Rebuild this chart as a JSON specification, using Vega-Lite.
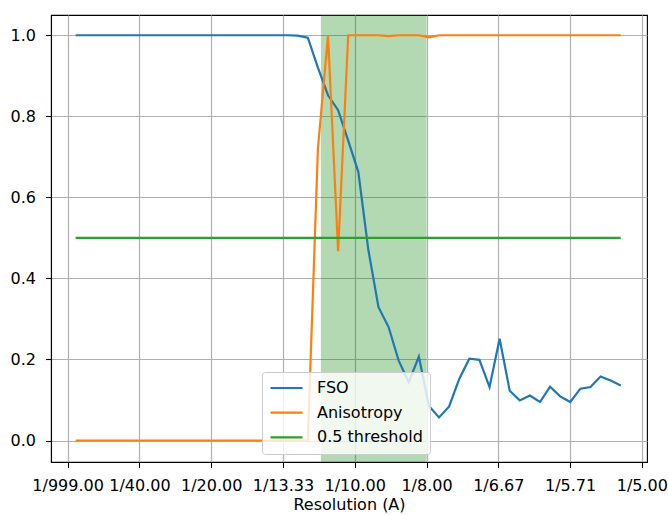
{
  "$schema": "https://vega.github.io/schema/vega-lite/v6.json",
  "width": 596,
  "height": 447,
  "autosize": {"type": "none"},
  "padding": {"left": 51, "top": 15, "right": 21, "bottom": 53},
  "background": "white",
  "config": {
    "font": "DejaVu Sans",
    "view": {"stroke": "#000000", "strokeWidth": 1.1},
    "axis": {
      "domainColor": "#000000",
      "domainWidth": 1.1,
      "tickColor": "#000000",
      "tickWidth": 1.1,
      "tickSize": 5.5,
      "labelColor": "#000000",
      "labelFont": "DejaVu Sans",
      "labelFontSize": 16,
      "labelPadding": 7,
      "gridColor": "#b0b0b0",
      "gridWidth": 1.2,
      "gridOpacity": 1,
      "titleFont": "DejaVu Sans",
      "titleFontSize": 16,
      "titleFontWeight": "normal",
      "titleColor": "#000000"
    }
  },
  "datasets": {
    "curves": [
      {"f": 0.00279, "FSO": 1.0, "Anisotropy": 0.0, "thr": 0.5},
      {"f": 0.00631, "FSO": 1.0, "Anisotropy": 0.0, "thr": 0.5},
      {"f": 0.00982, "FSO": 1.0, "Anisotropy": 0.0, "thr": 0.5},
      {"f": 0.01334, "FSO": 1.0, "Anisotropy": 0.0, "thr": 0.5},
      {"f": 0.01685, "FSO": 1.0, "Anisotropy": 0.0, "thr": 0.5},
      {"f": 0.02037, "FSO": 1.0, "Anisotropy": 0.0, "thr": 0.5},
      {"f": 0.02389, "FSO": 1.0, "Anisotropy": 0.0, "thr": 0.5},
      {"f": 0.0274, "FSO": 1.0, "Anisotropy": 0.0, "thr": 0.5},
      {"f": 0.03092, "FSO": 1.0, "Anisotropy": 0.0, "thr": 0.5},
      {"f": 0.03443, "FSO": 1.0, "Anisotropy": 0.0, "thr": 0.5},
      {"f": 0.03795, "FSO": 1.0, "Anisotropy": 0.0, "thr": 0.5},
      {"f": 0.04147, "FSO": 1.0, "Anisotropy": 0.0, "thr": 0.5},
      {"f": 0.04498, "FSO": 1.0, "Anisotropy": 0.0, "thr": 0.5},
      {"f": 0.0485, "FSO": 1.0, "Anisotropy": 0.0, "thr": 0.5},
      {"f": 0.05201, "FSO": 1.0, "Anisotropy": 0.0, "thr": 0.5},
      {"f": 0.05553, "FSO": 1.0, "Anisotropy": 0.0, "thr": 0.5},
      {"f": 0.05905, "FSO": 1.0, "Anisotropy": 0.0, "thr": 0.5},
      {"f": 0.06256, "FSO": 1.0, "Anisotropy": 0.0, "thr": 0.5},
      {"f": 0.06608, "FSO": 1.0, "Anisotropy": 0.0, "thr": 0.5},
      {"f": 0.06959, "FSO": 1.0, "Anisotropy": 0.0, "thr": 0.5},
      {"f": 0.07311, "FSO": 1.0, "Anisotropy": 0.0, "thr": 0.5},
      {"f": 0.07663, "FSO": 1.0, "Anisotropy": 0.0, "thr": 0.5},
      {"f": 0.08014, "FSO": 0.999, "Anisotropy": 0.0, "thr": 0.5},
      {"f": 0.08366, "FSO": 0.994, "Anisotropy": 0.0, "thr": 0.5},
      {"f": 0.08717, "FSO": 0.92, "Anisotropy": 0.72, "thr": 0.5},
      {"f": 0.09069, "FSO": 0.852, "Anisotropy": 1.0, "thr": 0.5},
      {"f": 0.09421, "FSO": 0.815, "Anisotropy": 0.467, "thr": 0.5},
      {"f": 0.09772, "FSO": 0.74, "Anisotropy": 1.0, "thr": 0.5},
      {"f": 0.10124, "FSO": 0.663, "Anisotropy": 1.0, "thr": 0.5},
      {"f": 0.10475, "FSO": 0.47, "Anisotropy": 1.0, "thr": 0.5},
      {"f": 0.10827, "FSO": 0.329, "Anisotropy": 1.0, "thr": 0.5},
      {"f": 0.11179, "FSO": 0.28, "Anisotropy": 0.998, "thr": 0.5},
      {"f": 0.1153, "FSO": 0.197, "Anisotropy": 1.0, "thr": 0.5},
      {"f": 0.11882, "FSO": 0.144, "Anisotropy": 1.0, "thr": 0.5},
      {"f": 0.12233, "FSO": 0.207, "Anisotropy": 1.0, "thr": 0.5},
      {"f": 0.12585, "FSO": 0.085, "Anisotropy": 0.995, "thr": 0.5},
      {"f": 0.12937, "FSO": 0.057, "Anisotropy": 1.0, "thr": 0.5},
      {"f": 0.13288, "FSO": 0.084, "Anisotropy": 1.0, "thr": 0.5},
      {"f": 0.1364, "FSO": 0.152, "Anisotropy": 1.0, "thr": 0.5},
      {"f": 0.13991, "FSO": 0.202, "Anisotropy": 1.0, "thr": 0.5},
      {"f": 0.14343, "FSO": 0.199, "Anisotropy": 1.0, "thr": 0.5},
      {"f": 0.14695, "FSO": 0.132, "Anisotropy": 1.0, "thr": 0.5},
      {"f": 0.15046, "FSO": 0.251, "Anisotropy": 1.0, "thr": 0.5},
      {"f": 0.15398, "FSO": 0.123, "Anisotropy": 1.0, "thr": 0.5},
      {"f": 0.15749, "FSO": 0.099, "Anisotropy": 1.0, "thr": 0.5},
      {"f": 0.16101, "FSO": 0.111, "Anisotropy": 1.0, "thr": 0.5},
      {"f": 0.16453, "FSO": 0.095, "Anisotropy": 1.0, "thr": 0.5},
      {"f": 0.16804, "FSO": 0.133, "Anisotropy": 1.0, "thr": 0.5},
      {"f": 0.17156, "FSO": 0.109, "Anisotropy": 1.0, "thr": 0.5},
      {"f": 0.17507, "FSO": 0.095, "Anisotropy": 1.0, "thr": 0.5},
      {"f": 0.17859, "FSO": 0.128, "Anisotropy": 1.0, "thr": 0.5},
      {"f": 0.18211, "FSO": 0.132, "Anisotropy": 1.0, "thr": 0.5},
      {"f": 0.18562, "FSO": 0.158, "Anisotropy": 1.0, "thr": 0.5},
      {"f": 0.18914, "FSO": 0.148, "Anisotropy": 1.0, "thr": 0.5},
      {"f": 0.19265, "FSO": 0.136, "Anisotropy": 1.0, "thr": 0.5}
    ],
    "band": [{"lo": 0.0882, "hi": 0.125}]
  },
  "encoding": {
    "x": {
      "type": "quantitative",
      "scale": {"domain": [-0.0058, 0.2018], "nice": false, "zero": false},
      "axis": {
        "title": "Resolution (A)",
        "values": [0, 0.025, 0.05, 0.075, 0.1, 0.125, 0.15, 0.175, 0.2],
        "labelExpr": "datum.value < 0.001 ? '1/999.00' : '1/' + format(1 / datum.value, '.2f')",
        "grid": true,
        "labelPadding": 10,
        "titlePadding": 3
      }
    }
  },
  "layer": [
    {
      "data": {"name": "band"},
      "mark": {"type": "rect", "color": "#008000", "opacity": 0.3},
      "encoding": {
        "x": {"field": "lo", "type": "quantitative"},
        "x2": {"field": "hi"}
      }
    },
    {
      "data": {"name": "curves"},
      "mark": {"type": "line", "strokeWidth": 2.2},
      "encoding": {
        "x": {"field": "f", "type": "quantitative"},
        "y": {
          "field": "FSO",
          "type": "quantitative",
          "scale": {"domain": [-0.053, 1.05], "nice": false, "zero": false},
          "axis": {"title": null, "values": [0, 0.2, 0.4, 0.6, 0.8, 1.0], "format": ".1f", "grid": true, "labelPadding": 10}
        },
        "color": {
          "datum": "FSO",
          "type": "nominal",
          "scale": {"domain": ["FSO", "Anisotropy", "0.5 threshold"], "range": ["#1f77b4", "#ff7f0e", "#2ca02c"]},
          "legend": {
            "title": null,
            "orient": "none",
            "legendX": 211,
            "legendY": 357,
            "symbolType": "stroke",
            "symbolSize": 1024,
            "symbolStrokeWidth": 2.2,
            "labelFontSize": 16,
            "labelFont": "DejaVu Sans",
            "labelColor": "#000000",
            "labelOffset": 13,
            "clipHeight": 18,
            "rowPadding": 6.7,
            "padding": 7,
            "fillColor": "rgba(255,255,255,0.8)",
            "strokeColor": "#cccccc",
            "cornerRadius": 3
          }
        }
      }
    },
    {
      "data": {"name": "curves"},
      "mark": {"type": "line", "strokeWidth": 2.2},
      "encoding": {
        "x": {"field": "f", "type": "quantitative"},
        "y": {"field": "Anisotropy", "type": "quantitative"},
        "color": {"datum": "Anisotropy", "type": "nominal"}
      }
    },
    {
      "data": {"name": "curves"},
      "mark": {"type": "line", "strokeWidth": 2.2},
      "encoding": {
        "x": {"field": "f", "type": "quantitative"},
        "y": {"field": "thr", "type": "quantitative"},
        "color": {"datum": "0.5 threshold", "type": "nominal"}
      }
    }
  ]
}
